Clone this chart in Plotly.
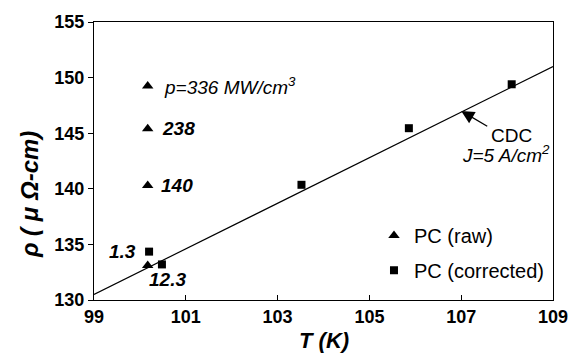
import plotly.graph_objects as go

# Data
fit_T = [99.0, 109.0]
fit_rho = [130.5, 151.0]

raw_T = [100.17, 100.17, 100.17, 100.17]
raw_rho = [149.25, 145.4, 140.3, 133.1]

corr_T = [100.2, 100.48, 103.52, 105.86, 108.1]
corr_rho = [134.35, 133.2, 140.36, 145.45, 149.4]

x_ticks = [99, 101, 103, 105, 107, 109]
y_ticks = [130, 135, 140, 145, 150, 155]

FONT = "Liberation Sans, Arial, sans-serif"

fig = go.Figure()
fig.add_trace(go.Scatter(x=fit_T, y=fit_rho, mode="lines",
                         line=dict(color="black", width=1.2), showlegend=False))
fig.add_trace(go.Scatter(x=raw_T, y=raw_rho, mode="markers", name="PC (raw)",
                         marker=dict(symbol="triangle-up", size=10, color="black"),
                         legend="legend"))
fig.add_trace(go.Scatter(x=corr_T, y=corr_rho, mode="markers", name="PC (corrected)",
                         marker=dict(symbol="square", size=8, color="black"),
                         legend="legend2"))

ann_font = dict(family=FONT, size=19, color="black")
annotations = [
    dict(x=100.48, y=149.25, text="<i>p=336 MW/cm<sup>3</sup></i>", xanchor="left", yanchor="middle"),
    dict(x=100.44, y=145.4, text="<b><i>238</i></b>", xanchor="left", yanchor="middle"),
    dict(x=100.42, y=140.3, text="<b><i>140</i></b>", xanchor="left", yanchor="middle"),
    dict(x=99.95, y=134.4, text="<b><i>1.3</i></b>", xanchor="right", yanchor="middle"),
    dict(x=100.16, y=131.8, text="<b><i>12.3</i></b>", xanchor="left", yanchor="middle"),
    dict(x=107.6, y=144.8, text="CDC", xanchor="left", yanchor="middle"),
    dict(x=108.97, y=143.1, text="<i>J=5 A/cm<sup>2</sup></i>", xanchor="right", yanchor="middle"),
]
for a in annotations:
    a.update(xref="x", yref="y", showarrow=False, font=ann_font)

annotations.append(dict(x=107.0, y=147.0, ax=107.6, ay=145.55, xref="x", yref="y",
                        axref="x", ayref="y", text="", showarrow=True,
                        arrowhead=2, arrowsize=2.0, arrowwidth=1.3, arrowcolor="black"))
# axis titles
annotations.append(dict(x=0.5, y=-0.145, xref="paper", yref="paper", text="<b><i>T (K)</i></b>",
                        showarrow=False, xanchor="center", yanchor="middle",
                        font=dict(family=FONT, size=22, color="black")))
annotations.append(dict(x=-0.14, y=0.38, xref="paper", yref="paper",
                        text="<b><i>ρ ( μ Ω-cm)</i></b>", textangle=-90,
                        showarrow=False, xanchor="center", yanchor="middle",
                        font=dict(family=FONT, size=24, color="black")))

fig.update_layout(
    width=580, height=358,
    margin=dict(l=94, r=21, t=20, b=58),
    paper_bgcolor="white", plot_bgcolor="white",
    font=dict(family=FONT, color="black"),
    annotations=annotations,
    legend=dict(x=0.61, y=0.232, xanchor="left", yanchor="middle",
                font=dict(family=FONT, size=20, color="black"),
                bgcolor="rgba(0,0,0,0)", itemwidth=30),
    legend2=dict(x=0.61, y=0.107, xanchor="left", yanchor="middle",
                 font=dict(family=FONT, size=20, color="black"),
                 bgcolor="rgba(0,0,0,0)", itemwidth=30),
)
fig.update_xaxes(range=[99, 109], tickvals=x_ticks, ticktext=[str(v) for v in x_ticks],
                 ticks="inside", ticklen=5, tickcolor="black",
                 showline=True, linecolor="black", linewidth=1.2, mirror=True,
                 showgrid=False, zeroline=False,
                 tickfont=dict(family=FONT, size=18, color="black", weight="bold"))
fig.update_yaxes(range=[130, 155], tickvals=y_ticks, ticktext=[str(v) for v in y_ticks],
                 ticks="outside", ticklen=5, tickcolor="black",
                 showline=True, linecolor="black", linewidth=1.2, mirror=True,
                 showgrid=False, zeroline=False,
                 tickfont=dict(family=FONT, size=18, color="black", weight="bold"))

fig.write_html("out.html")
